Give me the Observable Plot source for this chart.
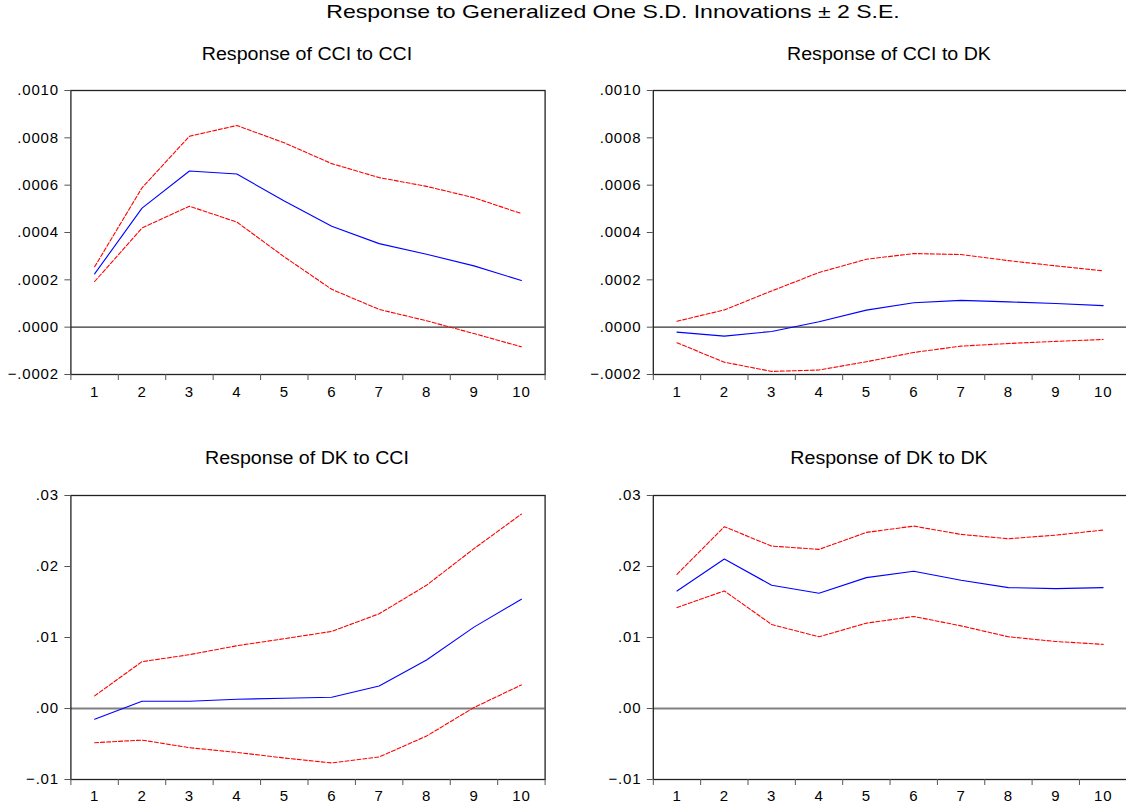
<!DOCTYPE html>
<html>
<head>
<meta charset="utf-8">
<script src="https://cdn.jsdelivr.net/npm/d3@7"></script>
<script src="https://cdn.jsdelivr.net/npm/@observablehq/plot@0.6"></script>
<style>
  html, body { margin: 0; padding: 0; background: #fff; overflow: hidden; }
  #page { position: relative; width: 1126px; height: 811px; overflow: hidden; background: #fff;
          font-family: "Liberation Sans", Arial, sans-serif; color: #000; }
  .title { position: absolute; text-align: center; font-size: 18px; line-height: 18px; white-space: nowrap; transform-origin: center center; }
  .panel { position: absolute; }
  .panel svg { display: block; overflow: visible; max-width: none !important; }
</style>
</head>
<body>
<div id="page"></div>
<script>
// ---------------- data ----------------
const periods = [1, 2, 3, 4, 5, 6, 7, 8, 9, 10];
const periodBoundaries = [0.5, 1.5, 2.5, 3.5, 4.5, 5.5, 6.5, 7.5, 8.5, 9.5, 10.5];

const mainTitle = "Response to Generalized One S.D. Innovations \u00b1 2 S.E.";
const panelTitles = ["Response of CCI to CCI", "Response of CCI to DK", "Response of DK to CCI", "Response of DK to DK"];

// Response of CCI to CCI
const cciCciResp  = [0.000225, 0.000503, 0.000660, 0.000647, 0.000533, 0.000426, 0.000353, 0.000308, 0.000259, 0.000197];
const cciCciUpper = [0.000255, 0.000589, 0.000807, 0.000852, 0.000779, 0.000691, 0.000632, 0.000595, 0.000547, 0.000480];
const cciCciLower = [0.000193, 0.000419, 0.000511, 0.000444, 0.000297, 0.000160, 0.000075, 0.000027, -0.000027, -0.000083];

// Response of CCI to DK
const cciDkResp  = [-0.000021, -0.000038, -0.000018, 0.000023, 0.000072, 0.000103, 0.000113, 0.000107, 0.000100, 0.000091];
const cciDkUpper = [0.000025, 0.000073, 0.000153, 0.000231, 0.000287, 0.000311, 0.000307, 0.000281, 0.000259, 0.000238];
const cciDkLower = [-0.000066, -0.000148, -0.000187, -0.000181, -0.000146, -0.000107, -0.000080, -0.000069, -0.000060, -0.000052];

// Response of DK to CCI
const dkCciResp  = [-0.00150, 0.00103, 0.00103, 0.00130, 0.00145, 0.00159, 0.00318, 0.00683, 0.01146, 0.01540];
const dkCciUpper = [0.00178, 0.00660, 0.00758, 0.00884, 0.00983, 0.01086, 0.01334, 0.01736, 0.02251, 0.02738];
const dkCciLower = [-0.00482, -0.00445, -0.00552, -0.00618, -0.00697, -0.00767, -0.00683, -0.00388, 0.00014, 0.00332];

// Response of DK to DK
const dkDkResp  = [0.01656, 0.02105, 0.01736, 0.01623, 0.01843, 0.01932, 0.01806, 0.01703, 0.01689, 0.01703];
const dkDkUpper = [0.01890, 0.02560, 0.02288, 0.02241, 0.02480, 0.02569, 0.02452, 0.02391, 0.02442, 0.02513];
const dkDkLower = [0.01422, 0.01656, 0.01183, 0.01010, 0.01202, 0.01296, 0.01164, 0.01010, 0.00944, 0.00903];

// tick values
const cciTicks = [-0.0002, 0, 0.0002, 0.0004, 0.0006, 0.0008, 0.0010];
const dkTicks  = [-0.01, 0, 0.01, 0.02, 0.03];

// ---------------- layout ----------------
const page = document.getElementById("page");

function addTitle(text, cx, top, size, stretch) {
  const d = document.createElement("div");
  d.className = "title";
  d.textContent = text;
  d.style.left = (cx - 350) + "px";
  d.style.width = "700px";
  d.style.top = top + "px";
  d.style.fontSize = size + "px";
  d.style.lineHeight = size + "px";
  d.style.transform = "scaleX(" + stretch + ")";
  page.appendChild(d);
}

function fmtFactory(decimals) {
  const f = d3.format("." + decimals + "f");
  return d => f(d).replace("0.", ".");
}

function panel(opts) {
  const { left, top, width, height, marginLeft, marginRight, marginTop, marginBottom,
          yTicks, decimals, resp, upper, lower, zeroStroke, zeroWidth, labelPad } = opts;
  const chart = Plot.plot({
    width, height, marginLeft, marginRight, marginTop, marginBottom,
    style: { fontFamily: "'Liberation Sans', Arial, sans-serif", fontSize: "15px", color: "#000", background: "transparent", overflow: "visible" },
    x: { domain: [0.5, 10.5] },
    y: { domain: [yTicks[0], yTicks[yTicks.length - 1]] },
    marks: [
      Plot.ruleY([0], { stroke: zeroStroke, strokeWidth: zeroWidth }),
      Plot.lineY(upper, { x: periods, stroke: "#ff0000", strokeWidth: 1.1, strokeDasharray: "4,2" }),
      Plot.lineY(lower, { x: periods, stroke: "#ff0000", strokeWidth: 1.1, strokeDasharray: "4,2" }),
      Plot.lineY(resp,  { x: periods, stroke: "#0000ff", strokeWidth: 1.1 }),
      Plot.frame({ stroke: "#222", strokeWidth: 1.3 }),
      Plot.axisX({ ticks: periodBoundaries, tickSize: 6, tickFormat: () => "", stroke: "#555", label: null }),
      Plot.axisX({ ticks: periods, tickSize: 0, tickPadding: labelPad, tickFormat: d => String(d), fontSize: 15, label: null }),
      Plot.axisY({ ticks: yTicks, tickSize: 6, tickPadding: 6, tickFormat: fmtFactory(decimals), fontSize: 15, stroke: "#555", label: null })
    ]
  });
  chart.querySelectorAll("text").forEach(t => { t.style.letterSpacing = "0.8px"; });
  const wrap = document.createElement("div");
  wrap.className = "panel";
  wrap.style.left = left + "px";
  wrap.style.top = top + "px";
  wrap.style.width = width + "px";
  wrap.style.height = height + "px";
  chart.style.width = width + "px";
  chart.style.height = height + "px";
  wrap.appendChild(chart);
  page.appendChild(wrap);
}

addTitle(mainTitle, 613, 3, 18.5, 1.245);
addTitle(panelTitles[0], 307, 45, 18, 1.09);
addTitle(panelTitles[1], 889, 45, 18, 1.09);
addTitle(panelTitles[2], 307, 449, 18, 1.09);
addTitle(panelTitles[3], 889, 449, 18, 1.09);

const topRow = { top: 80, height: 320, marginTop: 10, marginBottom: 26, labelPad: 12 };
const botRow = { top: 480, height: 331, marginTop: 15, marginBottom: 32, labelPad: 11 };
const leftCol = { left: 0, width: 560, marginLeft: 70.4, marginRight: 15.4 };
const rightCol = { left: 580, width: 560, marginLeft: 72.8, marginRight: 13.7 };

panel({ ...topRow, ...leftCol, yTicks: cciTicks, decimals: 4, resp: cciCciResp, upper: cciCciUpper, lower: cciCciLower, zeroStroke: "#333", zeroWidth: 1.2 });
panel({ ...topRow, ...rightCol, yTicks: cciTicks, decimals: 4, resp: cciDkResp, upper: cciDkUpper, lower: cciDkLower, zeroStroke: "#333", zeroWidth: 1.2 });
panel({ ...botRow, ...leftCol, yTicks: dkTicks, decimals: 2, resp: dkCciResp, upper: dkCciUpper, lower: dkCciLower, zeroStroke: "#808080", zeroWidth: 2.2 });
panel({ ...botRow, ...rightCol, yTicks: dkTicks, decimals: 2, resp: dkDkResp, upper: dkDkUpper, lower: dkDkLower, zeroStroke: "#808080", zeroWidth: 2.2 });
</script>
</body>
</html>
